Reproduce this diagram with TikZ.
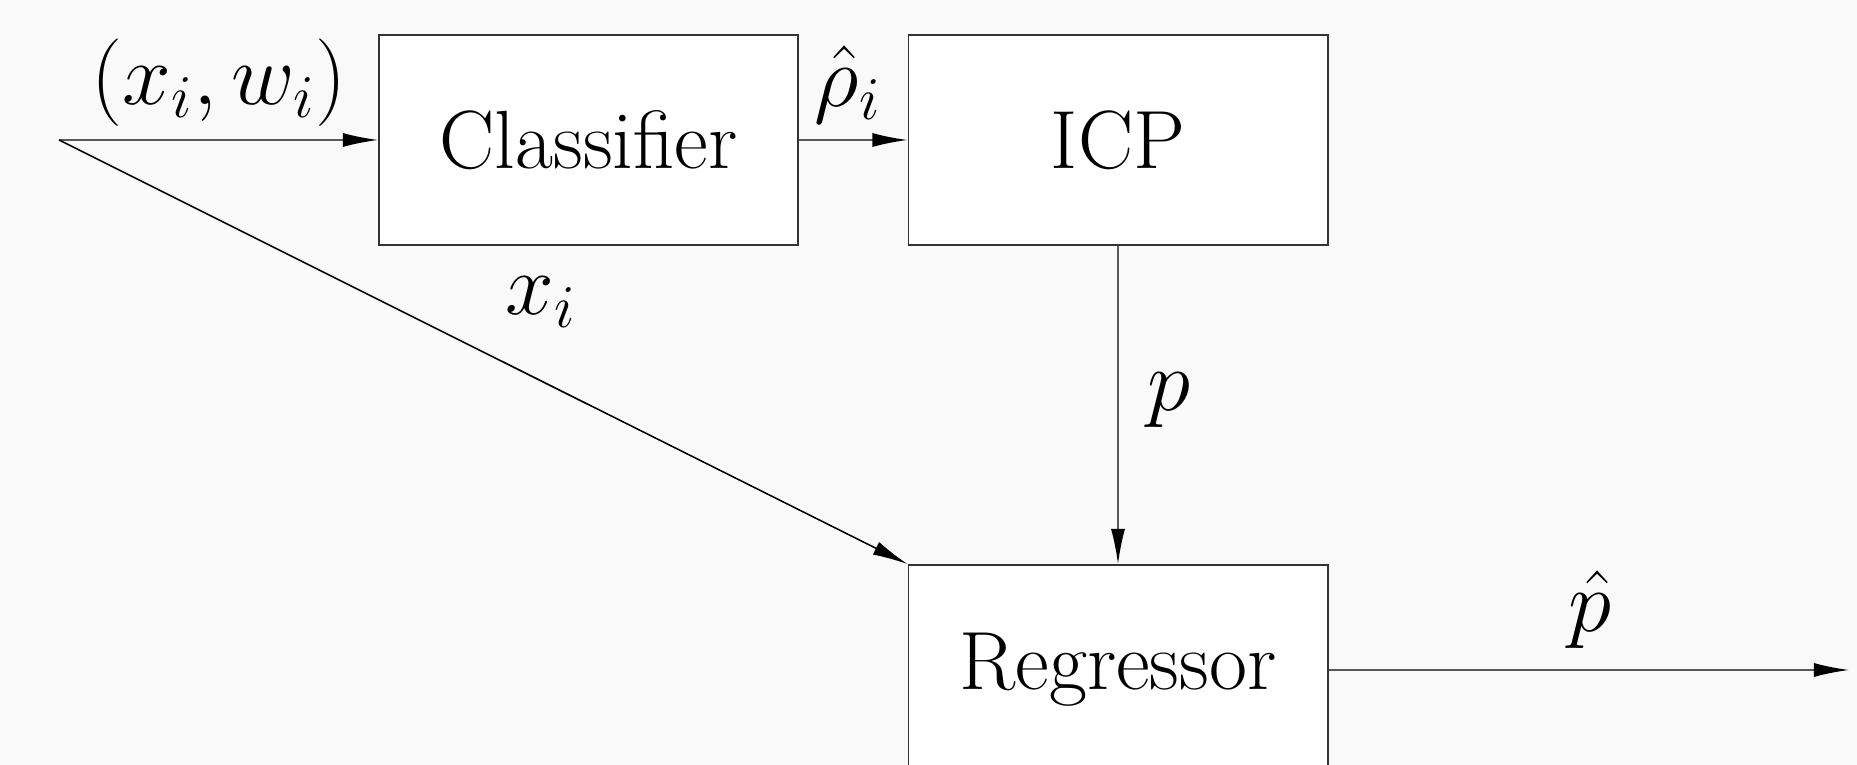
\documentclass[tikz,border=0pt]{standalone}
\usetikzlibrary{arrows.meta}
\definecolor{bg}{HTML}{F9F9F9}
\definecolor{edge}{HTML}{333333}
\tikzset{
  blk/.style={draw=edge,fill=white,line width=0.5pt,minimum width=4.19cm,minimum height=2.10cm,inner sep=0pt,font=\fontsize{23.5}{28}\selectfont},
  conn/.style={draw=black!65,line width=0.45pt,-{Latex[length=10pt,width=4pt,black]}},
  lbl/.style={font=\fontsize{23.5}{28}\selectfont,inner sep=0pt}
}
\begin{document}
\begin{tikzpicture}[x=0.01cm,y=-0.01cm]
\fill[bg] (0,0) rectangle (1857,765);
\useasboundingbox (0,0) rectangle (1857,765);
\clip (0,0) rectangle (1857,765);
\coordinate (in) at (59,140);
\coordinate (out) at (1849,670);
\node[blk] (cls) at (588.5,140) {Classifier};
\node[blk] (icp) at (1118,140) {ICP};
\node[blk] (reg) at (1118,670) {Regressor};
\draw[conn] (in) -- (cls.west);
\draw[conn] (cls.east) -- (icp.west);
\draw[conn] (icp.south) -- (reg.north);
\draw[conn,draw=black] (in) -- (reg.north west);
\draw[conn] (reg.east) -- (out);
\node[lbl] (l1) at (219,83) {$(x_i,w_i)$};
\node[lbl] (l2) at (848,85) {$\hat{\rho}_i$};
\node[lbl] (l3) at (541,302) {$x_i$};
\node[lbl] (l4) at (1169,400) {$p$};
\node[lbl] (l5) at (1590,610) {$\hat{p}$};
\end{tikzpicture}
\end{document}
